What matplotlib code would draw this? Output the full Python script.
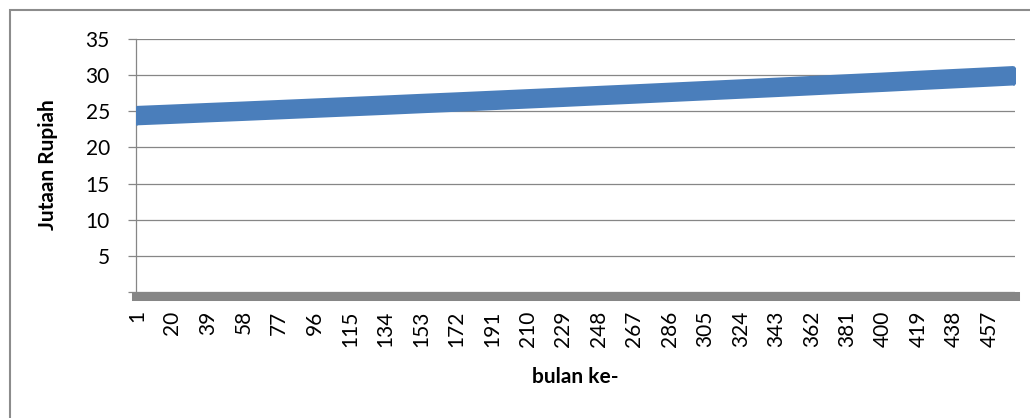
import matplotlib
matplotlib.use('Agg')
import matplotlib.pyplot as plt
from matplotlib.patches import Rectangle

plt.rcParams['font.family'] = ['Lato', 'DejaVu Sans']

# month index (category) and value, in millions of rupiah
n_months = 470
months = [1, 20, 39, 58, 77, 96, 115, 134, 153, 172, 191, 210, 229,
          248, 267, 286, 305, 324, 343, 362, 381, 400, 419, 438, 457, 470]
values = [24.40, 24.60, 24.81, 25.01, 25.22, 25.43, 25.64, 25.85, 26.07,
          26.28, 26.50, 26.72, 26.94, 27.17, 27.39, 27.62, 27.85, 28.08,
          28.31, 28.55, 28.79, 29.02, 29.27, 29.51, 29.75, 29.92]
tick_months = list(range(1, n_months + 1, 19))
y_ticks = [0, 5, 10, 15, 20, 25, 30, 35]

W, H = 1030, 418
fig = plt.figure(figsize=(W / 100, H / 100), dpi=100)

# outer chart border (runs off right and bottom edges like the source)
fig.add_artist(Rectangle((10 / W, -0.1), 1.0, 1 - 10 / H + 0.1,
                         transform=fig.transFigure, fill=False,
                         edgecolor='#8c8c8c', lw=1.5))

ax = fig.add_axes([136 / W, 1 - 292 / H, 879 / W, (292 - 39) / H])

# spine position first, it resets the tick setup
ax.spines['top'].set_visible(False)
ax.spines['right'].set_visible(False)
ax.spines['left'].set_color('#868686')
ax.spines['left'].set_linewidth(0.9)
ax.spines['bottom'].set_position(('outward', 3.2))
ax.spines['bottom'].set_color('#868686')
ax.spines['bottom'].set_linewidth(6.5)
ax.spines['bottom'].set_zorder(2)

# dense diamond markers make a thick band; pointed tips only show at the ends
ax.plot(months, values, color='#4A7EBB', lw=14, marker='D', markevery=[0, -1],
        markersize=10.5, markeredgewidth=0, solid_capstyle='butt', zorder=3)

ax.set_xlim(0.5, n_months + 0.5)
ax.set_ylim(0, 35)

ax.set_yticks(y_ticks)
ax.set_yticklabels([''] + [str(v) for v in y_ticks[1:]], fontsize=15)
ax.set_xticks(tick_months)
ax.set_xticklabels([str(m) for m in tick_months], rotation=90, fontsize=15)

ax.yaxis.grid(True, color='#868686', lw=0.9)
ax.set_axisbelow(True)

ax.tick_params(axis='y', length=5.8, width=0.9, color='#868686', pad=13)
ax.tick_params(axis='x', length=0, pad=10)

fig.text(575 / W, 1 - 377 / H, 'bulan ke-', ha='center', va='center',
         fontsize=15, fontweight='bold')
fig.text(48 / W, 1 - 165 / H, 'Jutaan Rupiah', ha='center', va='center',
         rotation=90, fontsize=15, fontweight='bold')

fig.savefig('out.png', dpi=100)
